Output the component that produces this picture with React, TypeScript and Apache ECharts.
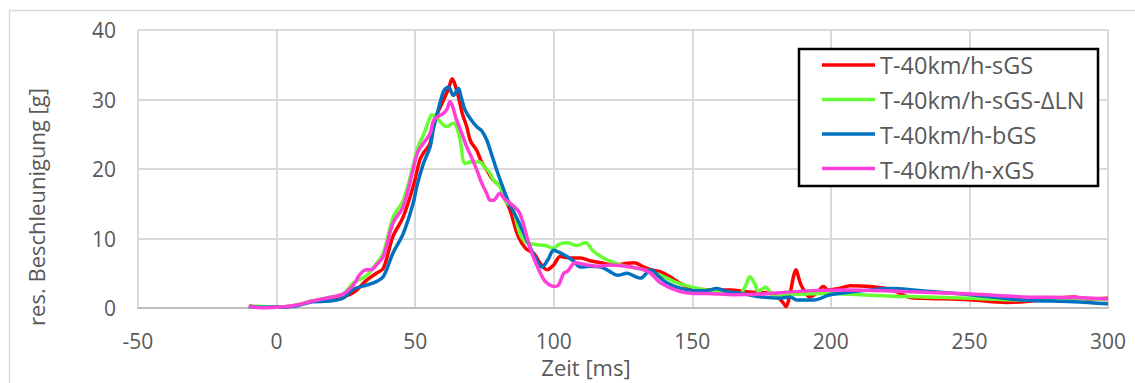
import React, { useEffect, useRef } from "react";
import * as echarts from "echarts";

const seriesNames = [
  "T-40km/h-sGS",
  "T-40km/h-sGS-ΔLN",
  "T-40km/h-bGS",
  "T-40km/h-xGS",
];

const seriesColors = ["#FF0000", "#66FF33", "#0070C0", "#FF40D8"];

const xTicks = [-50, 0, 50, 100, 150, 200, 250, 300];
const yTicks = [0, 10, 20, 30, 40];

// [Zeit ms, Beschleunigung g]
const sGS: number[][] = [
  [-10, 0.3], [-5, 0.1], [0, 0.1], [7, 0.4], [13, 1.0], [19, 1.25], [24, 1.6], [28, 2.3],
  [32.5, 4.0], [36, 5.0], [38.5, 5.7], [42, 10.3], [45.7, 13.1], [49.3, 17.5],
  [51.7, 21.3], [53, 22.3], [55.4, 23.7], [56.5, 26.6], [58, 28], [60.2, 29.9], [62, 31.5],
  [63.4, 33.0], [64.5, 32.0], [65.6, 30.4], [67, 28], [68.6, 26.1], [70, 24], [72.2, 22.7],
  [74, 21], [75.8, 19.9], [78, 18.5], [80.6, 17.5], [82, 16], [84.2, 14.1], [87.2, 10.3],
  [90, 8.5], [92.7, 7.9], [95, 6.5], [97.6, 5.5], [100, 6.2], [102.4, 7.4], [106, 7.2],
  [109.7, 7.2], [113, 6.8], [117, 6.5], [122, 6.2], [126, 6.4], [129, 6.5], [132, 6.0],
  [135, 5.5], [138.6, 5.2], [142, 4.5], [145.6, 3.55], [150.4, 2.8], [157.6, 2.6],
  [163.6, 2.6], [169.6, 2.35], [175, 2.2], [179.2, 2.1], [182.9, 0.7], [183.8, 0.2],
  [185, 1.5], [186.5, 4.5], [187.4, 5.5], [188.5, 4.2], [189.5, 3.1], [192.5, 1.6],
  [195, 2.2], [197.3, 3.1], [199, 2.6], [203, 2.8], [207, 3.2], [214, 3.1], [220, 2.8],
  [224, 2.3], [228.5, 1.5], [233, 1.4], [250, 1.2], [263.5, 0.8], [275, 1.1], [287.5, 1.6],
  [293, 1.3], [300, 1.4],
];

const sGSdLN: number[][] = [
  [-10, 0.3], [-5, 0.2], [0, 0.1], [7, 0.4], [13, 1.0], [19, 1.5], [24, 2.0], [27.7, 3.6],
  [32.5, 4.7], [36, 6.4], [38.5, 7.9], [42, 13.0], [45.7, 15.5], [49.3, 20.5],
  [51, 23.2], [53, 24.9], [55.4, 27.5], [56, 27.8], [57.5, 27.5], [59, 26.8], [61.4, 26.1],
  [63.8, 26.6], [65, 26.0], [66.2, 24.2], [68, 20.8], [70, 21.0], [73.4, 21.0], [75, 20.3],
  [77, 19.4], [78.3, 18.4], [80.6, 17.5], [83, 15.1], [85, 14.6], [87.8, 10.7], [90, 9.5],
  [94, 9.1], [97, 9.0], [100, 8.6], [102, 9.2], [104.8, 9.4], [108.4, 9.0], [111.5, 9.4],
  [114, 8.3], [117, 7.4], [120, 6.8], [124, 6.2], [132.5, 5.5], [138, 4.8], [144.6, 3.6],
  [150, 3.0], [156.7, 2.5], [162, 2.3], [167.2, 2.1], [169, 3.0], [170.8, 4.5], [172.5, 3.5],
  [173.8, 2.4], [175.5, 2.8], [176.6, 3.0], [179.2, 1.6], [185, 1.9], [200, 2.1],
  [210.7, 1.9], [222, 1.7], [233, 1.6], [250, 1.4], [269, 1.15], [287.5, 1.4], [300, 1.2],
];

const bGS: number[][] = [
  [-10, 0.2], [-5, 0.1], [0, 0.1], [7, 0.3], [13, 0.9], [19, 1.0], [24, 1.4], [27.7, 2.7],
  [32.5, 3.3], [36, 3.8], [38.5, 4.5], [42, 7.9], [45.7, 10.7], [49.3, 15.1],
  [50.6, 17.5], [53, 20.8], [55.4, 23.2], [56.5, 25.6], [58, 28], [60.2, 31.1], [62, 31.8],
  [63.8, 30.6], [65.6, 31.6], [66.5, 30.5], [68, 28.5], [70, 27.2], [72.2, 26.1], [74, 25.5],
  [75.8, 24.2], [77.1, 22.7], [79.4, 19.9], [82, 17], [84, 15], [86.6, 13], [90.3, 9.8],
  [93, 7.5], [95.8, 5.9], [98, 7.0], [100, 8.3], [102, 8.0], [104.8, 7.4], [107, 6.8],
  [109.7, 5.9], [113, 6.0], [117, 5.9], [120, 5.3], [123, 4.7], [126.5, 5.0], [129, 4.6],
  [131.3, 4.3], [135, 5.5], [138, 4.5], [141, 3.6], [145.6, 2.85], [150.6, 2.5], [155, 2.5],
  [158.8, 2.8], [163, 2.3], [168, 2.1], [174.5, 1.6], [181.7, 1.4], [185.3, 1.6],
  [187.7, 1.15], [193.7, 1.15], [199.7, 1.9], [205, 2.2], [211.7, 2.5], [221.3, 2.8],
  [233.4, 2.45], [250.4, 1.9], [269.4, 1.15], [287.5, 0.9], [300, 0.6],
];

const xGS: number[][] = [
  [-10, 0.3], [-5, 0.0], [0, 0.1], [7, 0.4], [13, 1.0], [19, 1.5], [24, 2.0], [27.7, 3.3],
  [30, 4.8], [32.5, 5.5], [34, 5.5], [36, 6.2], [38.5, 7.4], [42, 12.2], [45.7, 14.6],
  [49.3, 20.0], [51, 22.5], [53, 23.7], [55.4, 25.1], [56.5, 26.8],
  [58, 27.5], [60.2, 28.0], [61.5, 28.6], [62.6, 29.7], [63.5, 29.0], [65, 27.0], [66.5, 25.5],
  [68.6, 23.2], [70, 22], [72.2, 19.9], [74, 18], [75.8, 16.5], [77.1, 15.5], [78.2, 15.5],
  [80.6, 16.5], [82, 15.8], [84.2, 15.1], [86, 14.5], [87.8, 13.6], [90.3, 10.3], [92, 8.0],
  [95.2, 5.0], [97, 3.8], [100, 3.1], [101.5, 3.2], [103.6, 5.0], [105, 5.3], [107.8, 6.5],
  [112, 6.2], [116, 6.0], [120.5, 6.2], [126, 6.0], [132.5, 5.5], [135, 5.0], [138.6, 3.6],
  [145.6, 2.35], [150.6, 2.1], [155.2, 2.1], [165, 1.9], [175, 2.0], [181.7, 2.2],
  [193.7, 2.5], [205, 2.6], [221.3, 2.45], [250.4, 2.0], [269.4, 1.6], [287.5, 1.5],
  [300, 1.3],
];

const seriesData = [sGS, sGSdLN, bGS, xGS];

const FONT = "'Open Sans', 'Noto Sans', sans-serif";
const TEXT_COLOR = "#595959";

export default function App() {
  const ref = useRef<HTMLDivElement>(null);

  useEffect(() => {
    if (!ref.current) return;
    const chart = echarts.init(ref.current, undefined, { renderer: "svg" });
    chart.setOption({
      animation: false,
      backgroundColor: "#FFFFFF",
      grid: { left: 138, right: 27, top: 30, bottom: 75, containLabel: false },
      xAxis: {
        type: "value",
        min: xTicks[0],
        max: xTicks[xTicks.length - 1],
        interval: 50,
        axisLine: { show: true, onZero: false, lineStyle: { color: "#BFBFBF", width: 2 } },
        axisTick: { show: false },
        axisLabel: {
          color: TEXT_COLOR,
          fontFamily: FONT,
          fontSize: 21,
          margin: 22,
        },
        splitLine: { show: true, lineStyle: { color: "#D9D9D9", width: 2 } },
      },
      yAxis: {
        type: "value",
        min: yTicks[0],
        max: yTicks[yTicks.length - 1],
        interval: 10,
        axisLine: { show: false },
        axisTick: { show: false },
        axisLabel: {
          color: TEXT_COLOR,
          fontFamily: FONT,
          fontSize: 21,
          margin: 22,
        },
        splitLine: { show: true, lineStyle: { color: "#D9D9D9", width: 2 } },
      },
      legend: {
        orient: "vertical",
        left: 821,
        top: 51,
        padding: 0,
        itemWidth: 54,
        itemHeight: 14,
        itemGap: 7,
        z: 10,
        data: seriesNames,
        textStyle: {
          color: TEXT_COLOR,
          fontFamily: FONT,
          fontSize: 23.5,
          lineHeight: 28,
          padding: [0, 0, 0, 0],
        },
        icon: "rect",
        itemStyle: { opacity: 0 },
      },
      graphic: [
        {
          type: "rect",
          z: -10,
          silent: true,
          shape: { x: 9.5, y: 10.5, width: 1300, height: 500 },
          style: { fill: "none", stroke: "#D9D9D9", lineWidth: 1.5 },
        },
        {
          type: "rect",
          z: 5,
          silent: true,
          shape: { x: 799, y: 49, width: 299, height: 137 },
          style: { fill: "#FFFFFF", stroke: "#000000", lineWidth: 2.5 },
        },
        ...seriesColors.map((c, i) => ({
          type: "line",
          z: 11,
          silent: true,
          shape: { x1: 822, y1: 65 + i * 34.5, x2: 875, y2: 65 + i * 34.5 },
          style: { stroke: c, lineWidth: 3.5 },
        })),
        {
          type: "text",
          z: 5,
          x: 36,
          y: 207,
          rotation: Math.PI / 2,
          style: {
            text: "res. Beschleunigung [g]",
            fill: TEXT_COLOR,
            font: `22px ${FONT}`,
            align: "center",
            verticalAlign: "middle",
          },
        },
        {
          type: "text",
          z: 5,
          x: 586,
          y: 367,
          style: {
            text: "Zeit [ms]",
            fill: TEXT_COLOR,
            font: `22px ${FONT}`,
            align: "center",
            verticalAlign: "middle",
          },
        },
      ],
      series: seriesNames.map((name, i) => ({
        name,
        type: "line",
        data: seriesData[i],
        smooth: 0.35,
        symbol: "none",
        clip: true,
        color: seriesColors[i],
        lineStyle: { color: seriesColors[i], width: 3.5 },
      })),
    });
    return () => chart.dispose();
  }, []);

  return (
    <div
      ref={ref}
      style={{ position: "fixed", left: 0, top: 0, width: 1135, height: 383 }}
    />
  );
}
